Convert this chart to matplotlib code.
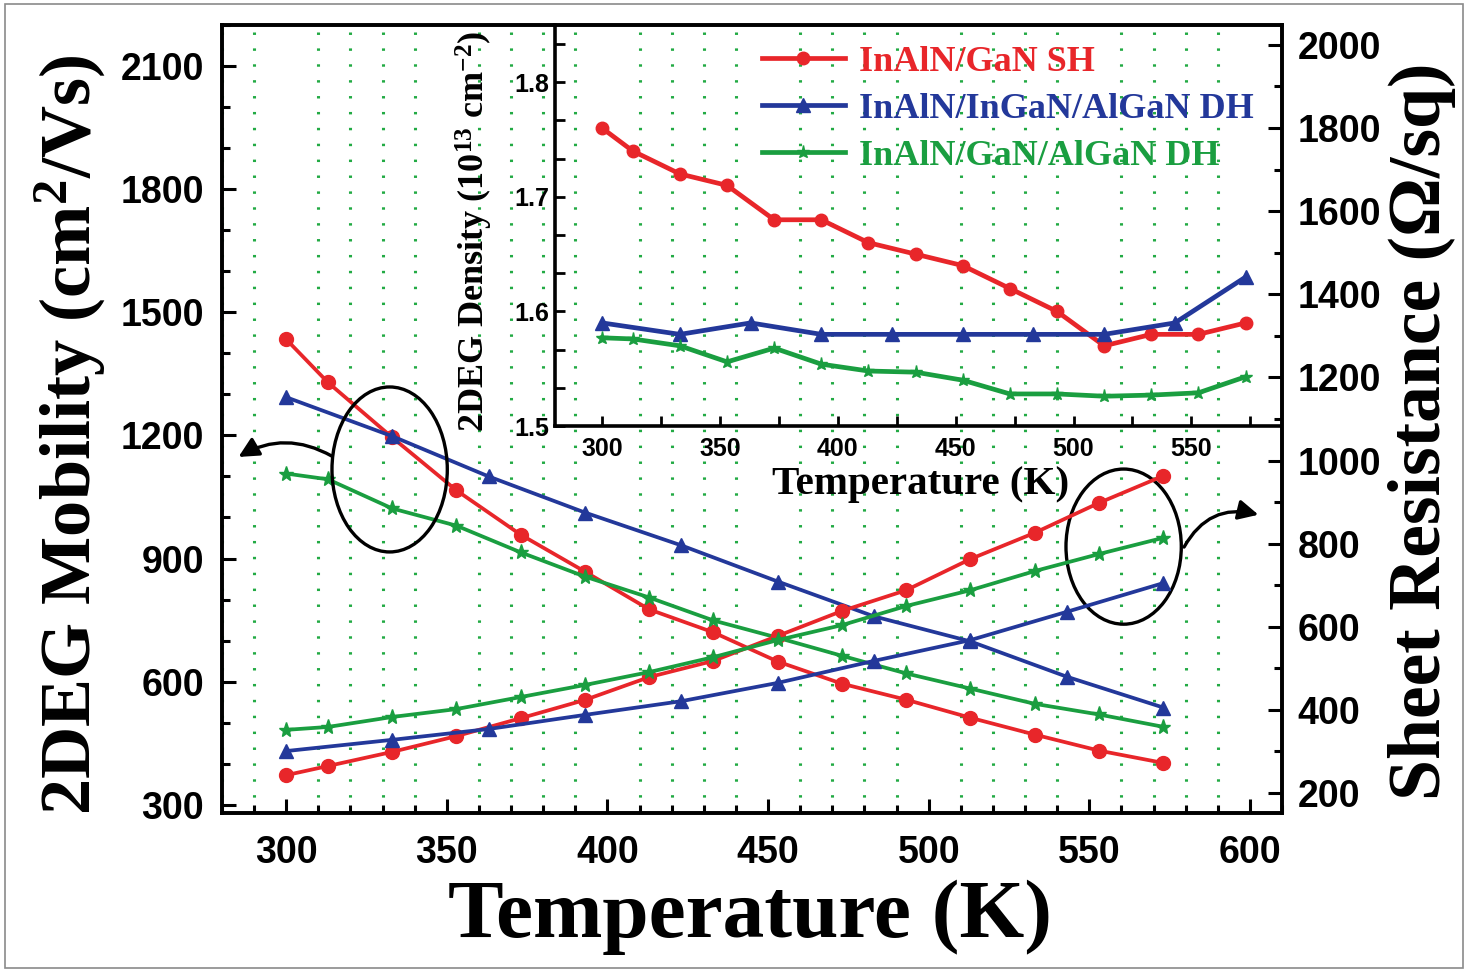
import matplotlib
matplotlib.use('Agg')
import matplotlib.pyplot as plt
from matplotlib.ticker import MultipleLocator
from matplotlib.patches import Ellipse, FancyArrowPatch, Rectangle

# temperatures (K)
temp_15 = [300, 313, 333, 353, 373, 393, 413, 433, 453, 473, 493, 513, 533, 553, 573]
temp_10 = [300, 333, 363, 393, 423, 453, 483, 513, 543, 573]

# 2DEG mobility (cm2/Vs), left axis
mob_sh = [1434, 1329, 1195, 1066, 958, 868, 776, 720, 649, 595, 556, 512, 471, 432, 402]
mob_ingan_dh = [1293, 1198, 1100, 1012, 932, 844, 759, 698, 612, 537]
mob_gan_dh = [1107, 1093, 1022, 980, 915, 856, 805, 749, 707, 663, 620, 583, 546, 520, 490]

# sheet resistance (ohm/sq), right axis
rs_sh = [243, 265, 299, 337, 380, 424, 479, 518, 578, 638, 688, 763, 826, 898, 963]
rs_ingan_dh = [301, 328, 354, 388, 421, 465, 518, 568, 636, 705]
rs_gan_dh = [352, 359, 383, 402, 431, 460, 491, 527, 568, 604, 650, 688, 734, 775, 814]

# 2DEG density (1e13 cm-2), inset
ns_sh = [1.76, 1.74, 1.72, 1.71, 1.68, 1.68, 1.66, 1.65, 1.64, 1.62, 1.60, 1.57, 1.58, 1.58, 1.59]
ns_ingan_dh = [1.59, 1.58, 1.59, 1.58, 1.58, 1.58, 1.58, 1.58, 1.59, 1.63]
ns_gan_dh = [1.577, 1.576, 1.570, 1.556, 1.568, 1.554, 1.548, 1.547, 1.540, 1.528, 1.528,
             1.526, 1.527, 1.529, 1.543]

labels = ['InAlN/GaN SH', 'InAlN/InGaN/AlGaN DH', 'InAlN/GaN/AlGaN DH']

RED = '#e8262a'
BLUE = '#23389a'
GREEN = '#1a9e40'
GRID = '#22aa44'

plt.rcParams['font.family'] = 'Liberation Sans'
plt.rcParams['font.weight'] = 'bold'
plt.rcParams['mathtext.fontset'] = 'custom'
plt.rcParams['mathtext.rm'] = 'Liberation Serif:bold'
plt.rcParams['mathtext.it'] = 'Liberation Serif:bold'
plt.rcParams['mathtext.bf'] = 'Liberation Serif:bold'
SERIF = 'Liberation Serif'

fig = plt.figure(figsize=(14.69, 9.72), dpi=100)
fig.patches.append(Rectangle((5 / 1469, 4 / 972), 1458 / 1469, 964 / 972, transform=fig.transFigure,
                             fill=False, edgecolor='#8a8a8a', lw=1.2))

ax = fig.add_axes([0.1511, 0.1636, 0.7216, 0.8107])
ax2 = ax.twinx()

# main plot: mobility (decreasing) and sheet resistance (increasing)
ax.plot(temp_15, mob_sh, color=RED, lw=2.7, marker='o', ms=10, zorder=3)
ax.plot(temp_10, mob_ingan_dh, color=BLUE, lw=2.7, marker='^', ms=10.5, zorder=3)
ax.plot(temp_15, mob_gan_dh, color=GREEN, lw=2.7, marker='*', ms=11, zorder=3)
ax2.plot(temp_15, rs_sh, color=RED, lw=2.7, marker='o', ms=10)
ax2.plot(temp_10, rs_ingan_dh, color=BLUE, lw=2.7, marker='^', ms=10.5)
ax2.plot(temp_15, rs_gan_dh, color=GREEN, lw=2.7, marker='*', ms=11)

ax.set_xlim(280, 610)
ax.set_ylim(280, 2200)
ax2.set_ylim(152, 2048)

ax.xaxis.set_major_locator(MultipleLocator(50))
ax.xaxis.set_minor_locator(MultipleLocator(10))
ax.yaxis.set_major_locator(MultipleLocator(300))
ax.yaxis.set_minor_locator(MultipleLocator(100))
ax2.yaxis.set_major_locator(MultipleLocator(200))
ax2.yaxis.set_minor_locator(MultipleLocator(100))

ax.xaxis.grid(True, which='minor', color=GRID, linestyle=(0, (0.8, 4.4)), linewidth=2.2)
ax.set_axisbelow(True)

for a in (ax, ax2):
    for s in a.spines.values():
        s.set_linewidth(2.6)
ax.tick_params(axis='both', which='both', direction='in', width=2.2, labelsize=27,
               top=False, right=False)
ax.tick_params(axis='both', which='major', length=10)
ax.tick_params(axis='both', which='minor', length=6)
ax.tick_params(axis='x', pad=16)
ax.tick_params(axis='y', pad=13)
ax2.tick_params(axis='y', which='both', direction='in', width=2.2, labelsize=27, pad=11)
ax2.tick_params(axis='y', which='major', length=10)
ax2.tick_params(axis='y', which='minor', length=6)

ax.set_xlabel('Temperature (K)', fontfamily=SERIF, fontsize=60, fontweight='bold', va='center')
ax.xaxis.set_label_coords(0.498, -0.133)
ax.set_ylabel('2DEG Mobility (cm$^{\\mathrm{2}}$/Vs)', fontfamily=SERIF, fontsize=52,
              fontweight='bold', va='center')
ax.yaxis.set_label_coords(-0.1434, 0.48)
ax2.set_ylabel('Sheet Resistance (\u03a9/sq)', fontfamily=SERIF, fontsize=53,
               fontweight='bold', va='center', rotation=90)
ax2.yaxis.set_label_coords(1.132, 0.485)

# circled groups with arrows to their axes
ax.add_patch(Ellipse((332.2, 1117), 35.9, 402, fill=False, ec='black', lw=2.4, zorder=4))
ax.add_patch(Ellipse((560.7, 929), 35.9, 378, fill=False, ec='black', lw=2.4, zorder=4))
ax.add_patch(FancyArrowPatch((315, 1146), (284.4, 1144), connectionstyle='arc3,rad=0.3',
                             arrowstyle='-|>,head_length=0.6,head_width=0.3', mutation_scale=20,
                             lw=2.4, color='black', zorder=4, clip_on=False))
ax.add_patch(FancyArrowPatch((579.1, 922), (603.5, 1005), connectionstyle='arc3,rad=-0.4',
                             arrowstyle='-|>,head_length=0.6,head_width=0.3', mutation_scale=20,
                             lw=2.4, color='black', zorder=4, clip_on=False))

# inset: 2DEG density
axin = fig.add_axes([0.3778, 0.5617, 0.4942, 0.4126])
axin.set_facecolor('none')
axin.plot(temp_15, ns_sh, color=RED, lw=3.4, marker='o', ms=9, label=labels[0])
axin.plot(temp_10, ns_ingan_dh, color=BLUE, lw=3.4, marker='^', ms=10, label=labels[1])
axin.plot(temp_15, ns_gan_dh, color=GREEN, lw=3.4, marker='*', ms=9.5, label=labels[2])
axin.set_xlim(280, 588)
axin.set_ylim(1.5, 1.85)
axin.xaxis.set_major_locator(MultipleLocator(50))
axin.xaxis.set_minor_locator(MultipleLocator(25))
axin.yaxis.set_major_locator(MultipleLocator(0.1))
axin.yaxis.set_minor_locator(MultipleLocator(0.1 / 3))
axin.spines['top'].set_visible(False)
axin.spines['right'].set_visible(False)
axin.spines['left'].set_linewidth(2.6)
axin.spines['bottom'].set_linewidth(2.6)
axin.tick_params(axis='both', which='both', direction='in', width=2, length=7, labelsize=18)
axin.tick_params(axis='y', pad=4)
axin.tick_params(axis='x', pad=8)
axin.set_xlabel('Temperature (K)', fontfamily=SERIF, fontsize=29.5, fontweight='bold', va='center')
axin.xaxis.set_label_coords(0.504, -0.147)
axin.set_ylabel('2DEG Density (10$^{\\mathrm{13}}$ cm$^{\\mathrm{-2}}$)', fontfamily=SERIF,
                fontsize=26, fontweight='bold', va='center')
axin.yaxis.set_label_coords(-0.1116, 0.486)
axin.legend(loc='upper left', bbox_to_anchor=(0.265, 0.985), frameon=False, labelcolor='linecolor',
            prop={'family': SERIF, 'weight': 'bold', 'size': 26}, handlelength=2.3,
            handletextpad=0.4, labelspacing=0.38, borderaxespad=0)

fig.savefig('out.png', dpi=100)
